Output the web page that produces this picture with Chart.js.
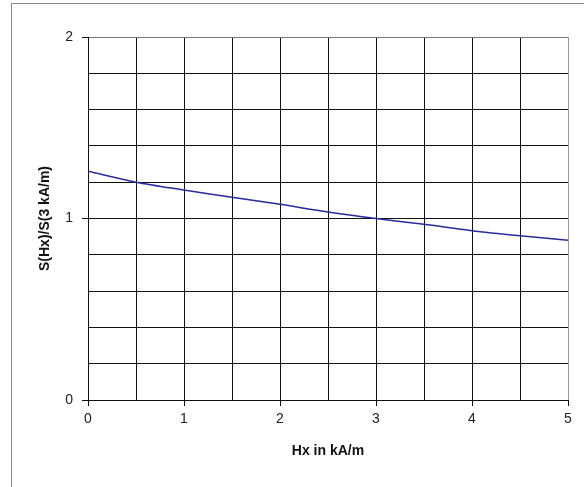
<!DOCTYPE html>
<html>
<head>
<meta charset="utf-8">
<script src="https://cdn.jsdelivr.net/npm/chart.js@4/dist/chart.umd.min.js"></script>
<style>
  html, body { margin: 0; padding: 0; background: #fff; overflow: hidden; }
  #wrap { width: 584px; height: 487px; position: relative; }
</style>
</head>
<body>
<div id="wrap"><canvas id="myChart"></canvas></div>
<script>
// field strength Hx in kA/m
const hxValues = [0, 0.5, 1, 1.5, 2, 2.5, 3, 3.5, 4, 4.5, 5];
// S(Hx)/S(3 kA/m)
const ratioValues = [1.26, 1.2, 1.157, 1.117, 1.078, 1.036, 1.0, 0.968, 0.933, 0.905, 0.88];
const yLabels = [0, 1, 2];
const xLabels = [0, 1, 2, 3, 4, 5];

function isLabelled(val, list) {
    return list.some(v => Math.abs(v - val) < 1e-6);
}

const points = hxValues.map((x, i) => ({ x: x, y: ratioValues[i] }));

//white background + outer frame of the figure
const framePlugin = {
    id: 'frame',
    beforeDraw(chart) {
        const c = chart.ctx;
        c.save();
        c.fillStyle = '#fff';
        c.fillRect(0, 0, chart.width, chart.height);
        c.strokeStyle = '#888';
        c.lineWidth = 1;
        c.strokeRect(11.5, 3.5, 700, 700);
        c.restore();
    }
};

const tickFont = { family: '"Liberation Sans", Arial, sans-serif', size: 14 };
const titleFont = { family: '"Liberation Sans", Arial, sans-serif', size: 14, weight: 'bold' };

const ctx = document.getElementById('myChart');
const myChart = new Chart(ctx, {
    type: 'line',
    data: {
        datasets: [{
            data: points,
            borderColor: '#2a2a9a',
            borderWidth: 1.5,
            pointRadius: 0,
            tension: 0.3,
            fill: false
        }]
    },
    plugins: [framePlugin],
    options: {
        responsive: true,
        maintainAspectRatio: false,
        animation: false,
        devicePixelRatio: 1,
        layout: {
            padding: { left: 12, right: 16, top: 37, bottom: 0 }
        },
        plugins: {
            legend: { display: false },
            tooltip: { enabled: false }
        },
        scales: {
            x: {
                type: 'linear',
                min: 0,
                max: 5,
                afterFit: (scale) => { scale.height = 87; },
                ticks: {
                    stepSize: 0.5,
                    autoSkip: false,
                    maxRotation: 0,
                    padding: 5,
                    color: '#222',
                    font: tickFont,
                    callback: (val) => isLabelled(val, xLabels) ? String(val) : ''
                },
                grid: {
                    color: (c) => (c.tick && c.tick.value === 5) ? '#999' : '#111',
                    lineWidth: 1,
                    tickLength: 6,
                    tickColor: (c) => (c.tick && isLabelled(c.tick.value, xLabels)) ? '#111' : 'rgba(0,0,0,0)'
                },
                border: { color: '#111', width: 1 },
                title: {
                    display: true,
                    text: 'Hx in kA/m',
                    color: '#111',
                    font: titleFont,
                    padding: { top: 0, bottom: 27 }
                }
            },
            y: {
                min: 0,
                max: 2,
                afterFit: (scale) => { scale.width = 76; },
                ticks: {
                    stepSize: 0.2,
                    autoSkip: false,
                    padding: 9,
                    color: '#222',
                    font: tickFont,
                    callback: (val) => isLabelled(val, yLabels) ? String(Math.round(val)) : ''
                },
                grid: {
                    color: (c) => (c.tick && Math.abs(c.tick.value - 2) < 1e-6) ? '#777' : '#111',
                    lineWidth: 1,
                    tickLength: 6,
                    tickColor: (c) => (c.tick && isLabelled(c.tick.value, yLabels)) ? '#111' : 'rgba(0,0,0,0)'
                },
                border: { color: '#111', width: 1 },
                title: {
                    display: true,
                    text: 'S(Hx)/S(3 kA/m)',
                    color: '#111',
                    font: titleFont,
                    padding: { top: 25, bottom: 0 }
                }
            }
        }
    }
});
</script>
</body>
</html>
